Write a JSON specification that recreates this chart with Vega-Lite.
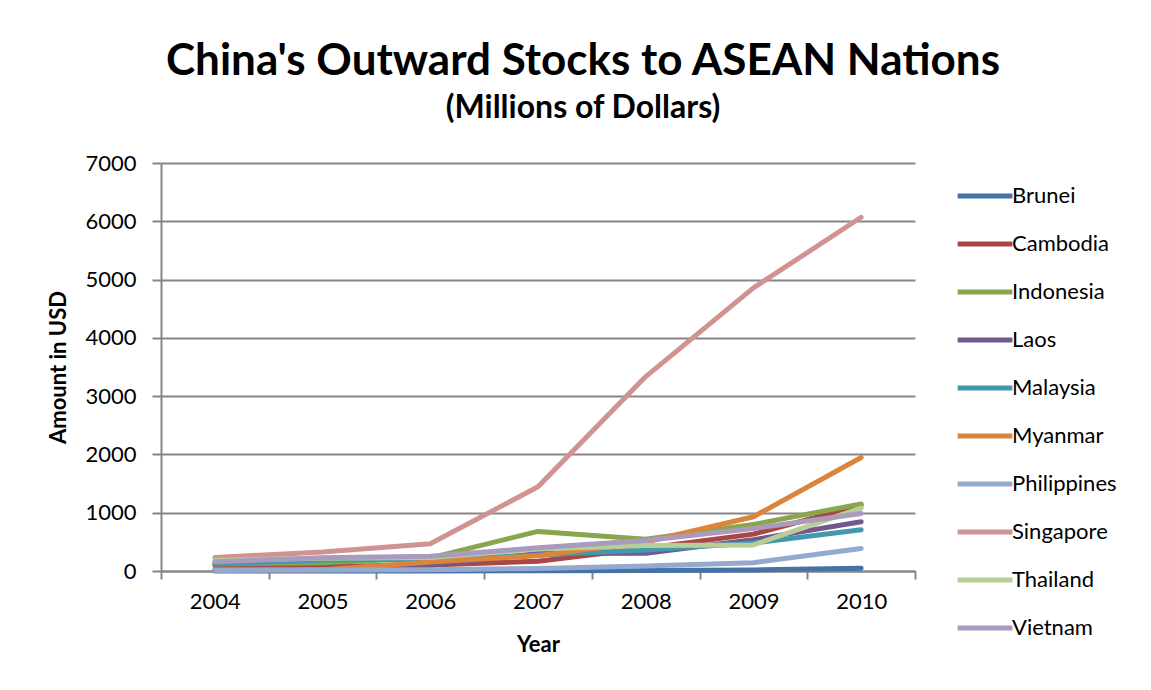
{
  "$schema": "https://vega.github.io/schema/vega-lite/v6.json",
  "autosize": {"type": "none"},
  "width": 754,
  "height": 408,
  "padding": {"left": 161, "top": 163, "right": 236, "bottom": 119},
  "background": "white",
  "title": {
    "text": "China's Outward Stocks to ASEAN Nations",
    "subtitle": "(Millions of Dollars)",
    "anchor": "middle",
    "frame": "group",
    "dx": 45,
    "offset": 28,
    "font": "Lato",
    "fontSize": 44,
    "fontWeight": "bold",
    "color": "black",
    "subtitleFont": "Lato",
    "subtitleFontSize": 32,
    "subtitleFontWeight": "bold",
    "subtitleColor": "black",
    "subtitlePadding": 9
  },
  "data": {
    "values": [
      {"country": "Brunei", "year": "2004", "amount": 0},
      {"country": "Brunei", "year": "2005", "amount": 2},
      {"country": "Brunei", "year": "2006", "amount": 2},
      {"country": "Brunei", "year": "2007", "amount": 4},
      {"country": "Brunei", "year": "2008", "amount": 7},
      {"country": "Brunei", "year": "2009", "amount": 17},
      {"country": "Brunei", "year": "2010", "amount": 46},
      {"country": "Cambodia", "year": "2004", "amount": 90},
      {"country": "Cambodia", "year": "2005", "amount": 76},
      {"country": "Cambodia", "year": "2006", "amount": 104},
      {"country": "Cambodia", "year": "2007", "amount": 168},
      {"country": "Cambodia", "year": "2008", "amount": 391},
      {"country": "Cambodia", "year": "2009", "amount": 633},
      {"country": "Cambodia", "year": "2010", "amount": 1130},
      {"country": "Indonesia", "year": "2004", "amount": 122},
      {"country": "Indonesia", "year": "2005", "amount": 141},
      {"country": "Indonesia", "year": "2006", "amount": 226},
      {"country": "Indonesia", "year": "2007", "amount": 679},
      {"country": "Indonesia", "year": "2008", "amount": 543},
      {"country": "Indonesia", "year": "2009", "amount": 799},
      {"country": "Indonesia", "year": "2010", "amount": 1150},
      {"country": "Laos", "year": "2004", "amount": 15},
      {"country": "Laos", "year": "2005", "amount": 30},
      {"country": "Laos", "year": "2006", "amount": 96},
      {"country": "Laos", "year": "2007", "amount": 302},
      {"country": "Laos", "year": "2008", "amount": 305},
      {"country": "Laos", "year": "2009", "amount": 536},
      {"country": "Laos", "year": "2010", "amount": 846},
      {"country": "Malaysia", "year": "2004", "amount": 123},
      {"country": "Malaysia", "year": "2005", "amount": 187},
      {"country": "Malaysia", "year": "2006", "amount": 197},
      {"country": "Malaysia", "year": "2007", "amount": 275},
      {"country": "Malaysia", "year": "2008", "amount": 361},
      {"country": "Malaysia", "year": "2009", "amount": 480},
      {"country": "Malaysia", "year": "2010", "amount": 709},
      {"country": "Myanmar", "year": "2004", "amount": 20},
      {"country": "Myanmar", "year": "2005", "amount": 23},
      {"country": "Myanmar", "year": "2006", "amount": 156},
      {"country": "Myanmar", "year": "2007", "amount": 262},
      {"country": "Myanmar", "year": "2008", "amount": 498},
      {"country": "Myanmar", "year": "2009", "amount": 930},
      {"country": "Myanmar", "year": "2010", "amount": 1947},
      {"country": "Philippines", "year": "2004", "amount": 9},
      {"country": "Philippines", "year": "2005", "amount": 19},
      {"country": "Philippines", "year": "2006", "amount": 22},
      {"country": "Philippines", "year": "2007", "amount": 43},
      {"country": "Philippines", "year": "2008", "amount": 87},
      {"country": "Philippines", "year": "2009", "amount": 143},
      {"country": "Philippines", "year": "2010", "amount": 387},
      {"country": "Singapore", "year": "2004", "amount": 233},
      {"country": "Singapore", "year": "2005", "amount": 325},
      {"country": "Singapore", "year": "2006", "amount": 468},
      {"country": "Singapore", "year": "2007", "amount": 1444},
      {"country": "Singapore", "year": "2008", "amount": 3335},
      {"country": "Singapore", "year": "2009", "amount": 4857},
      {"country": "Singapore", "year": "2010", "amount": 6069},
      {"country": "Thailand", "year": "2004", "amount": 182},
      {"country": "Thailand", "year": "2005", "amount": 219},
      {"country": "Thailand", "year": "2006", "amount": 233},
      {"country": "Thailand", "year": "2007", "amount": 379},
      {"country": "Thailand", "year": "2008", "amount": 437},
      {"country": "Thailand", "year": "2009", "amount": 448},
      {"country": "Thailand", "year": "2010", "amount": 1080},
      {"country": "Vietnam", "year": "2004", "amount": 160},
      {"country": "Vietnam", "year": "2005", "amount": 229},
      {"country": "Vietnam", "year": "2006", "amount": 254},
      {"country": "Vietnam", "year": "2007", "amount": 397},
      {"country": "Vietnam", "year": "2008", "amount": 522},
      {"country": "Vietnam", "year": "2009", "amount": 729},
      {"country": "Vietnam", "year": "2010", "amount": 987}
    ]
  },
  "mark": {"type": "line", "strokeWidth": 5, "strokeCap": "round", "strokeJoin": "round"},
  "encoding": {
    "x": {
      "field": "year",
      "type": "ordinal",
      "scale": {"type": "band", "paddingInner": 0, "paddingOuter": 0},
      "axis": {
        "title": "Year",
        "titleFont": "Lato",
        "titleFontSize": 22,
        "titleFontWeight": "bold",
        "titleColor": "black",
        "titlePadding": 22,
        "labelFont": "Lato",
        "labelFontSize": 22,
        "labelColor": "black",
        "labelAngle": 0,
        "labelPadding": 12,
        "tickBand": "extent",
        "tickSize": 8,
        "tickWidth": 2,
        "tickColor": "#868686",
        "domainColor": "#868686",
        "domainWidth": 2,
        "grid": false
      }
    },
    "y": {
      "field": "amount",
      "type": "quantitative",
      "scale": {"domain": [0, 7000], "nice": false},
      "axis": {
        "title": "Amount in USD",
        "titleFont": "Lato",
        "titleFontSize": 22,
        "titleFontWeight": "bold",
        "titleColor": "black",
        "titlePadding": 14,
        "values": [0, 1000, 2000, 3000, 4000, 5000, 6000, 7000],
        "format": "d",
        "labelFont": "Lato",
        "labelFontSize": 22,
        "labelColor": "black",
        "labelPadding": 16,
        "tickSize": 9,
        "tickWidth": 2,
        "tickColor": "#868686",
        "domainColor": "#868686",
        "domainWidth": 2,
        "grid": true,
        "gridColor": "#868686",
        "gridWidth": 2
      }
    },
    "color": {
      "field": "country",
      "type": "nominal",
      "scale": {
        "domain": ["Brunei", "Cambodia", "Indonesia", "Laos", "Malaysia", "Myanmar", "Philippines", "Singapore", "Thailand", "Vietnam"],
        "range": ["#4572A7", "#AA4643", "#89A54E", "#71588F", "#4198AF", "#DB843D", "#93A9CF", "#D19392", "#B9CD96", "#A99BBD"]
      },
      "legend": {
        "title": null,
        "orient": "none",
        "legendX": 794,
        "legendY": 3,
        "symbolType": "stroke",
        "symbolSize": 3000,
        "symbolStrokeWidth": 5,
        "labelFont": "Lato",
        "labelFontSize": 22,
        "labelColor": "black",
        "labelOffset": -3,
        "rowPadding": 7
      }
    }
  },
  "config": {
    "view": {"stroke": null}
  }
}
